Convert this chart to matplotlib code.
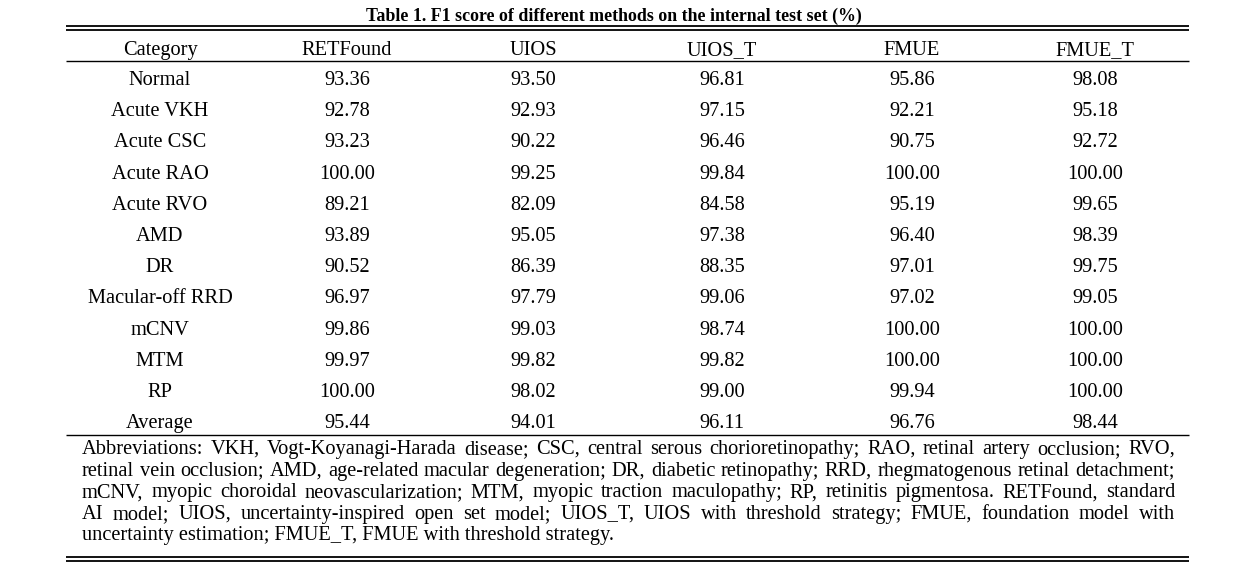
import matplotlib
matplotlib.use("Agg")
import matplotlib.pyplot as plt

# Datos de la tabla
columnas = ["Category", "RETFound", "UIOS", "UIOS_T", "FMUE", "FMUE_T"]
categorias = ["Normal", "Acute VKH", "Acute CSC", "Acute RAO", "Acute RVO", "AMD",
              "DR", "Macular-off RRD", "mCNV", "MTM", "RP", "Average"]
retfound = ["93.36", "92.78", "93.23", "100.00", "89.21", "93.89", "90.52", "96.97", "99.86", "99.97", "100.00", "95.44"]
uios = ["93.50", "92.93", "90.22", "99.25", "82.09", "95.05", "86.39", "97.79", "99.03", "99.82", "98.02", "94.01"]
uios_t = ["96.81", "97.15", "96.46", "99.84", "84.58", "97.38", "88.35", "99.06", "98.74", "99.82", "99.00", "96.11"]
fmue = ["95.86", "92.21", "90.75", "100.00", "95.19", "96.40", "97.01", "97.02", "100.00", "100.00", "99.94", "96.76"]
fmue_t = ["98.08", "95.18", "92.72", "100.00", "99.65", "98.39", "99.75", "99.05", "100.00", "100.00", "100.00", "98.44"]

titulo = "Table 1. F1 score of different methods on the internal test set (%)"
notas = [
    "Abbreviations: VKH, Vogt-Koyanagi-Harada disease; CSC, central serous chorioretinopathy; RAO, retinal artery occlusion; RVO,",
    "retinal vein occlusion; AMD, age-related macular degeneration; DR, diabetic retinopathy; RRD, rhegmatogenous retinal detachment;",
    "mCNV, myopic choroidal neovascularization; MTM, myopic traction maculopathy; RP, retinitis pigmentosa. RETFound, standard",
    "AI model; UIOS, uncertainty-inspired open set model; UIOS_T, UIOS with threshold strategy; FMUE, foundation model with",
    "uncertainty estimation; FMUE_T, FMUE with threshold strategy.",
]

plt.rcParams["font.family"] = ["Liberation Serif", "DejaVu Serif"]
fig = plt.figure(figsize=(12.56, 5.66), dpi=100)
ax = fig.add_axes([0, 0, 1, 1])
ax.set_xlim(0, 1256)
ax.set_ylim(566, 0)
ax.axis("off")

x0, x1 = 66, 1189
col_x = [160, 347, 533, 722, 912, 1095]
fs = 14.7

# Titulo
ax.text(614, 21, titulo, ha="center", va="baseline", fontsize=12.9, fontweight="bold")

# Lineas horizontales
for y, lw in [(26, 1.3), (29.5, 1.3), (61, 1.0), (435, 1.0), (557, 1.3), (560.5, 1.3)]:
    ax.plot([x0, x1], [y, y], color="black", lw=lw, solid_capstyle="butt")

# Encabezado
for x, c in zip(col_x, columnas):
    ax.text(x, 55, c, ha="center", va="baseline", fontsize=fs)

# Filas
cols = [categorias, retfound, uios, uios_t, fmue, fmue_t]
for i in range(len(categorias)):
    y = 85 + i * 31.2
    for x, col in zip(col_x, cols):
        ax.text(x, y, col[i], ha="center", va="baseline", fontsize=fs)

# Notas justificadas
fig.canvas.draw()
r = fig.canvas.get_renderer()
izq, der = 82, 1175
for j, linea in enumerate(notas):
    y = 454 + j * 21.6
    palabras = linea.split(" ")
    if j == len(notas) - 1:
        ax.text(izq, y, linea, ha="left", va="baseline", fontsize=fs)
        continue
    textos = [ax.text(0, y, p, ha="left", va="baseline", fontsize=fs) for p in palabras]
    anchos = [t.get_window_extent(renderer=r).width for t in textos]
    hueco = (der - izq - sum(anchos)) / (len(palabras) - 1)
    x = izq
    for t, w in zip(textos, anchos):
        t.set_x(x)
        x += w + hueco

fig.savefig("out.png", dpi=100)
